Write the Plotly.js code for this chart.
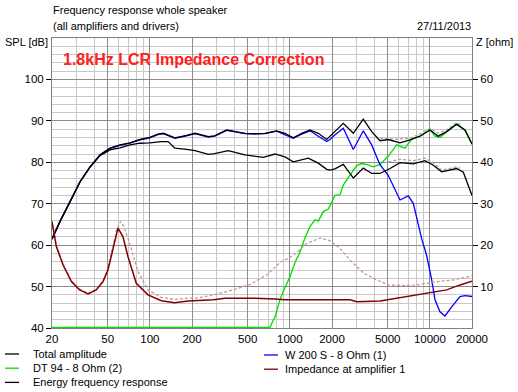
<!DOCTYPE html>
<html><head><meta charset="utf-8">
<script src="https://cdn.plot.ly/plotly-3.0.1.min.js"></script>
<style>html,body{margin:0;padding:0;background:#fff;}#chart{width:518px;height:392px;}</style>
</head><body><div id="chart"></div>
<script>
// ---- data ----
const totalFreq = [20,23,26.9,31.7,37.4,44,51.9,61.2,72.1,85,100,114,125,132,151,183,210,262,290,354,400,478,560,664,805,923,1058,1215,1393,1596,1833,2043,2408,2840,3346,3843,4405,5050,6120,7212,8506,10024,11485,13191,15550,17825,20000];
const totalSpl  = [61.5,66,70.5,75.3,78.9,81.8,83.4,84.2,84.7,85.5,86.0,86.8,87.0,86.7,85.9,86.5,87.0,86.2,86.4,87.8,87.4,87.0,86.9,87.0,87.6,87.0,85.9,87.0,87.8,87.0,85.5,87.0,89.4,87.0,90.4,87.4,85.2,85.5,84.7,85.4,86.3,87.8,86.3,87.4,89.2,87.8,84.4];

const energyFreq = [20,23,26.9,31.7,37.4,44,51.9,61.2,72.1,85,100,120,135,151,183,210,262,290,363,478,646,783,923,1058,1354,1596,1833,1935,2100,2408,2840,3346,3843,4405,5194,6120,7614,9232,10583,12146,15550,17336,20000];
const energySpl  = [61.5,66,70.5,75.3,78.9,81.6,83.0,83.5,84.2,84.6,84.7,85.0,85.0,83.4,83.1,82.8,81.9,82.1,82.8,81.8,81.2,82.0,81.3,80.1,81.0,79.8,78.3,78.1,78.4,79.5,76.2,78.6,77.3,77.3,78.5,79.9,79.6,80.4,79.3,77.7,78.5,77.6,72.0];

const wooferFreq = [20,23,26.9,31.7,37.4,44,51.9,61.2,72.1,85,100,114,125,132,151,183,210,262,290,354,400,478,560,664,805,874,1058,1215,1393,1596,1833,1935,2043,2408,2840,3346,3843,4172,4405,5050,5637,6120,7014,7614,8747,9493,10307,10882,11810,12825,14322,16420,17825,20000];
const wooferSpl  = [61.4,65.9,70.4,75.2,78.8,81.7,83.3,84.1,84.6,85.4,85.9,86.7,86.9,86.6,85.8,86.4,86.9,86.1,86.3,87.7,87.3,86.9,86.8,86.9,87.5,87.0,85.8,86.8,87.6,86.3,85.0,85.5,86.3,88.2,83.1,87.6,84.2,81.3,79.4,76.8,73.3,70.9,71.9,70.1,61.5,57.5,51.6,46.8,43.9,42.9,45.1,47.6,47.8,47.6];

const tweeterFreq = [20,720,783,850,923,1002,1088,1181,1283,1393,1512,1596,1734,1882,2000,2100,2282,2408,2690,3003,3259,3539,3945,4405,5050,5500,5796,6643,7417,8506,10024,10882,11810,13191,14704,15550,17825,20000];
const tweeterSpl  = [40.15,40.15,42.7,46.8,49.8,52.4,55.8,58.3,61.8,64.5,66.1,65.8,68.1,68.7,70.5,72.0,72.2,74.5,76.9,79.2,79.7,79.5,78.9,79.5,81.5,83.0,84.2,83.4,85.6,86.3,87.9,86.3,86.0,87.3,88.7,89.1,87.7,84.3];

const prevTotalFreq = [4405,5796,7212,8747,10024,11485,13191,15550,16883];
const prevTotalSpl  = [85.8,85.6,85.8,87.0,88.2,87.0,87.8,89.6,88.8];
const prevEnergyFreq = [5050,6120,7614,9232,10583,12146,15550,16420];
const prevEnergySpl  = [80.1,80.7,80.4,81.0,79.8,78.1,78.9,78.6];

const impFreq = [20,21.5,24,27.5,31.5,36.2,41.4,46.3,50.2,54.5,59.2,64.3,69.8,80,97,120.7,150,187,284,344,478,564,783,923,2690,3003,4405,5194,7212,9493,13191,16420,20000];
const impOhm  = [25.6,19.6,15.2,11.2,9.2,8.2,9.2,11.2,14.0,19.2,24.1,22.0,17.2,10.8,8.0,6.6,6.1,6.5,6.8,7.2,7.3,7.2,7.0,6.8,6.8,6.35,6.5,6.9,7.6,8.4,9.2,10.4,11.3];

const impPrevFreq = [20,21.5,24,27.5,31.5,36.2,41.4,46.3,50.2,54.5,58,61.9,65,71.8,82.3,97,120.7,150,187,216,284,394,519,683,850,1058,1319,1641,1935,2282,2690,3346,4172,5050,6831,8506,11186,14704,18329,20000];
const impPrevOhm  = [26.0,20.0,15.5,11.5,9.4,8.4,9.4,11.4,14.4,19.6,23.8,25.7,24.6,20.4,13.6,9.2,7.4,6.9,7.2,7.2,8.0,9.2,10.5,12.8,15.8,17.5,20.4,21.7,21.1,19.2,16.4,13.3,11.6,10.4,10.2,10.5,11.2,11.6,12.4,12.6];

const xTickVals = [20,50,100,200,500,1000,2000,5000,10000,20000];
const xTickText = ['20','50','100','200','500','1000','2000','5000','10000','20000'];
const xMinorVals = [30,40,60,70,80,90,300,400,600,700,800,900,3000,4000,6000,7000,8000,9000];
const splTicks = [40,50,60,70,80,90,100];
const ohmTicks = [10,20,30,40,50,60];

const legendLeft = ['Total amplitude','DT 94 - 8 Ohm (2)','Energy frequency response'];
const legendLeftColors = ['#000000','#00dd00','#000000'];
const legendRight = ['W 200 S - 8 Ohm (1)','Impedance at amplifier 1'];
const legendRightColors = ['#0000ff','#800000'];

// ---- figure ----
const FONT = 'Liberation Sans, Arial, sans-serif';
const L = 52, R = 472, T = 38, B = 328;
const PX = x => (x - L) / (R - L);
const PY = y => (B - y) / (B - T);

const traces = [
  {x: impPrevFreq, y: impPrevOhm, yaxis:'y2', mode:'lines', line:{color:'#c89090', width:1.2, dash:'3px,2px'}},
  {x: impFreq, y: impOhm, yaxis:'y2', mode:'lines', line:{color:'#800000', width:1.5}},
  {x: prevTotalFreq, y: prevTotalSpl, mode:'lines', line:{color:'#a0a0a0', width:1.2, dash:'3px,2px'}},
  {x: prevEnergyFreq, y: prevEnergySpl, mode:'lines', line:{color:'#a0a0a0', width:1.2, dash:'3px,2px'}},
  {x: tweeterFreq, y: tweeterSpl, mode:'lines', line:{color:'#00dd00', width:1.3}},
  {x: wooferFreq, y: wooferSpl, mode:'lines', line:{color:'#0000ff', width:1.3}},
  {x: energyFreq, y: energySpl, mode:'lines', line:{color:'#000000', width:1.3}},
  {x: totalFreq, y: totalSpl, mode:'lines', line:{color:'#000000', width:1.3}}
];

const ann = [];
const txt = (text, x, y, anchor, extra) => ann.push(Object.assign({text, xref:'paper', yref:'paper', x:PX(x), y:PY(y), xanchor:anchor, yanchor:'middle', showarrow:false, font:{family:FONT, size:11, color:'#000'}}, extra||{}));
txt('Frequency response whole speaker', 51, 10, 'left');
txt('(all amplifiers and drivers)', 51, 26, 'left');
txt('27/11/2013', 473, 26, 'right');
txt('SPL [dB]', 3, 42, 'left');
txt('Z [ohm]', 474, 42, 'left');
txt('<b>1.8kHz LCR Impedance Correction</b>', 61, 59, 'left', {font:{family:FONT, size:16, color:'#ff2020'}});
const shapes = [];
legendLeft.forEach((t, i) => {
  const y = 354 + i * 14.2;
  txt(t, 31, y, 'left');
  shapes.push({type:'line', xref:'paper', yref:'paper', x0:PX(5), x1:PX(19), y0:PY(y), y1:PY(y), line:{color:legendLeftColors[i], width:1.3}});
});
legendRight.forEach((t, i) => {
  const y = 355 + i * 14.2;
  txt(t, 283, y, 'left');
  shapes.push({type:'line', xref:'paper', yref:'paper', x0:PX(264), x1:PX(278), y0:PY(y), y1:PY(y), line:{color:legendRightColors[i], width:1.3}});
});

const layout = {
  width:518, height:392,
  margin:{l:L, r:518-R, t:T, b:392-B, pad:0},
  paper_bgcolor:'#ffffff', plot_bgcolor:'#ffffff',
  font:{family:FONT, size:11, color:'#000'},
  showlegend:false,
  xaxis:{type:'log', range:[Math.log10(20), Math.log10(20000)], tickmode:'array', tickvals:xTickVals, ticktext:xTickText,
    showgrid:true, gridcolor:'#8c8c8c', gridwidth:1, ticks:'', zeroline:false,
    minor:{tickmode:'array', tickvals:xMinorVals, showgrid:true, gridcolor:'#c8c8c8', gridwidth:1, ticks:''},
    showline:true, linecolor:'#808080', linewidth:1, mirror:true, tickfont:{size:11.5}},
  yaxis:{range:[40,110], tickmode:'array', tickvals:splTicks, showgrid:true, gridcolor:'#8c8c8c', gridwidth:1, zeroline:false,
    minor:{tick0:40, dtick:2, showgrid:true, gridcolor:'#c8c8c8', gridwidth:1, ticks:''},
    ticks:'outside', ticklen:5, tickcolor:'#000', tickwidth:1, showline:true, linecolor:'#808080', mirror:true, tickfont:{size:11.5}},
  yaxis2:{overlaying:'y', side:'right', range:[0,70], tickmode:'array', tickvals:ohmTicks, showgrid:false, zeroline:false,
    ticks:'outside', ticklen:5, tickcolor:'#000', tickwidth:1, tickfont:{size:11.5}},
  annotations:ann, shapes:shapes
};
Plotly.newPlot('chart', traces, layout, {staticPlot:true, displayModeBar:false});
</script></body></html>
